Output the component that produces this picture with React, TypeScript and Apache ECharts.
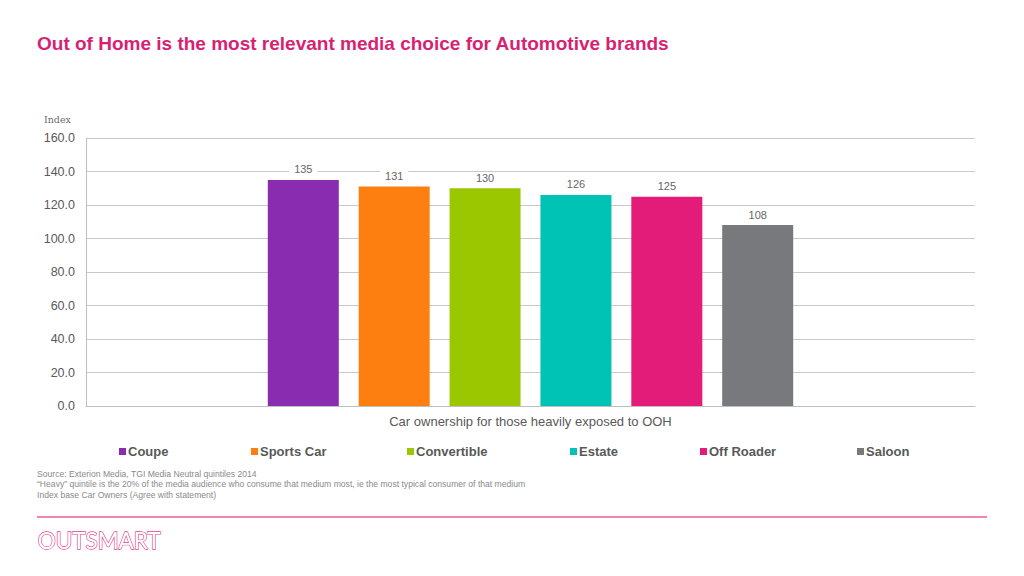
import React, { useEffect, useRef } from "react";
import * as echarts from "echarts";

const categories = ["Car ownership for those heavily exposed to OOH"];
const seriesNames = ["Coupe", "Sports Car", "Convertible", "Estate", "Off Roader", "Saloon"];
const seriesValues = [135, 131, 130, 126, 125, 108];
const seriesColors = ["#8a2cb0", "#fd7f10", "#9bc700", "#00c2b5", "#e31c79", "#77797c"];
const legendLefts = [119, 251, 407, 570, 700, 857];
const footerLines = [
  "Source: Exterion Media, TGI Media Neutral quintiles 2014",
  "\u201cHeavy\u201d quintile is the 20% of the media audience who consume that medium most, ie the most typical consumer of that medium",
  "Index base Car Owners (Agree with statement)",
];
const FONT = "'Liberation Sans', Arial, sans-serif";

export default function App() {
  const ref = useRef<HTMLDivElement>(null);
  useEffect(() => {
    if (!ref.current) return;
    const chart = echarts.init(ref.current, null, { renderer: "svg" });
    const series = seriesNames.map((name, i) => ({
      name,
      type: "bar",
      data: [seriesValues[i]],
      barWidth: 71,
      barGap: "28%",
      itemStyle: { color: seriesColors[i] },
      label: {
        show: true,
        position: "top",
        distance: 5,
        color: "#666666",
        fontSize: 11,
        fontFamily: FONT,
        backgroundColor: "#ffffff",
        padding: [0, 5],
      },
    }));
    const legends = seriesNames.map((name, i) => ({
      data: [name],
      left: legendLefts[i],
      top: 445,
      padding: 0,
      itemWidth: 7,
      itemHeight: 7,
      icon: "rect",
      selectedMode: false,
      textStyle: {
        color: "#595959",
        fontSize: 13,
        fontWeight: "bold",
        fontFamily: FONT,
        padding: [0, 0, 0, -3],
      },
    }));
    chart.setOption({
      animation: false,
      backgroundColor: "#ffffff",
      textStyle: { fontFamily: FONT },
      grid: { left: 86, right: 49, top: 138, bottom: 170 },
      legend: legends,
      xAxis: {
        type: "category",
        data: categories,
        axisLine: { show: true, lineStyle: { color: "#bfbfbf", width: 1 } },
        axisTick: { show: false },
        axisLabel: { color: "#595959", fontSize: 13, margin: 9, fontFamily: FONT },
      },
      yAxis: {
        type: "value",
        min: 0,
        max: 160,
        interval: 20,
        axisLine: { show: true, lineStyle: { color: "#bfbfbf", width: 1 } },
        axisTick: { show: false },
        axisLabel: {
          color: "#595959",
          fontSize: 12.5,
          margin: 11,
          fontFamily: FONT,
          formatter: (v: number) => v.toFixed(1),
        },
        splitLine: { show: true, lineStyle: { color: "#c9c9c9", width: 1 } },
      },
      series,
      graphic: [
        {
          type: "text",
          left: 37,
          top: 34,
          style: {
            text: "Out of Home is the most relevant media choice for Automotive brands",
            fill: "#d81f73",
            font: `bold 19px ${FONT}`,
          },
        },
        {
          type: "text",
          left: 44,
          top: 114,
          style: {
            text: "Index",
            fill: "#6b6b6b",
            font: "9.5px 'DejaVu Serif', 'Liberation Serif', serif",
          },
        },
        ...footerLines.map((t, i) => ({
          type: "text",
          left: 37,
          top: 469 + i * 10.5,
          style: { text: t, fill: "#8a8a8a", font: `8.6px ${FONT}` },
        })),
        {
          type: "line",
          shape: { x1: 37, y1: 517, x2: 987, y2: 517 },
          style: { stroke: "#e6609e", lineWidth: 1.5 },
        },
        {
          type: "text",
          left: 37,
          top: 528,
          style: {
            text: "OUTSMART",
            fill: "#ffffff",
            stroke: "#e2458f",
            lineWidth: 1.3,
            font: "22.5px Lato, 'Open Sans', sans-serif",
          },
        },
      ],
    });
    return () => chart.dispose();
  }, []);
  return (
    <div
      ref={ref}
      style={{ position: "fixed", left: 0, top: 0, width: 1024, height: 576 }}
    />
  );
}
